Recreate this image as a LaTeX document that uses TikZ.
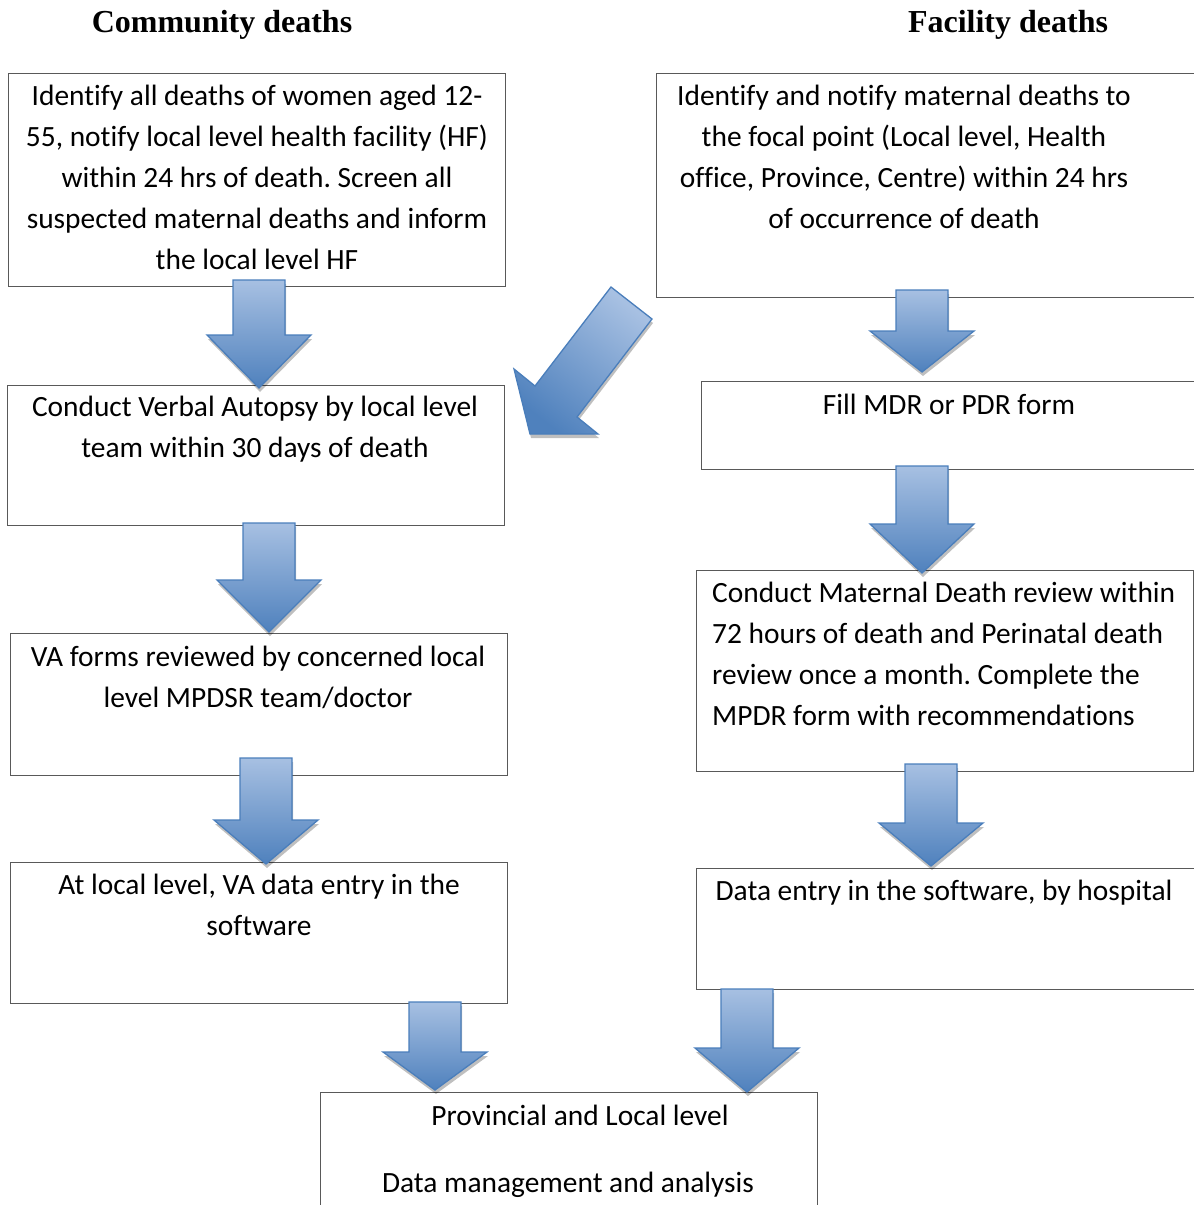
\documentclass[tikz,border=0pt]{standalone}
\usepackage{fontspec}
\setmainfont{Carlito}[Ligatures=NoCommon]
\newfontfamily\titlefont{Liberation Serif}
\usetikzlibrary{shadows}
\frenchspacing

\definecolor{boxline}{RGB}{89,89,89}
\definecolor{arrowline}{RGB}{74,126,187}
\definecolor{arrowtop}{RGB}{167,192,226}
\definecolor{arrowbottom}{RGB}{79,129,189}

% flecha de bloque: centro x, arriba, inicio de la punta, punta
\newcommand{\flowarrow}[4]{%
  \draw[bigarrow] (#1-26,#2) -- (#1+26,#2) -- (#1+26,#3) -- (#1+52,#3)
    -- (#1,#4) -- (#1-52,#3) -- (#1-26,#3) -- cycle;}

\begin{document}
\begin{tikzpicture}[x=1pt, y=-1pt,
  box/.style={draw=boxline, line width=1.3pt, rectangle, inner sep=0pt, anchor=north west},
  txt/.style={font=\fontsize{29.4}{41}\selectfont, inner sep=0pt, align=center, anchor=base},
  titel/.style={font=\titlefont\bfseries\fontsize{32}{38}\selectfont, inner sep=0pt, anchor=base},
  bigarrow/.style={draw=arrowline, line width=1.3pt, top color=arrowtop, bottom color=arrowbottom,
    drop shadow={shadow xshift=1pt, shadow yshift=-4pt, opacity=0.25, fill=black}}
  ]
	\useasboundingbox (0,0) rectangle (1194,1205);
	\clip (0,0) rectangle (1194,1205);

	%Titulos
		\node[titel] (comm) at (222,32) {Community deaths};
		\node[titel] (faci) at (1008,32) {Facility deaths};

	%Cajas lado izquierdo
		\node[box, minimum width=497, minimum height=213] (l1) at (8,73) {};
		\node[box, minimum width=497, minimum height=140] (l2) at (7,385) {};
		\node[box, minimum width=497, minimum height=142] (l3) at (10,633) {};
		\node[box, minimum width=497, minimum height=141] (l4) at (10,862) {};
	%Cajas lado derecho
		\node[box, minimum width=560, minimum height=224] (r1) at (656,73) {};
		\node[box, minimum width=520, minimum height=88] (r2) at (701,381) {};
		\node[box, minimum width=497, minimum height=201] (r3) at (696,570) {};
		\node[box, minimum width=520, minimum height=121] (r4) at (696,868) {};
	%Caja final
		\node[box, minimum width=497, minimum height=130] (fin) at (320,1092) {};

	%Textos (base = ultima linea)
		\node[txt] (tl1) at (257,269) {Identify all deaths of women aged 12-\\55, notify local level health facility (HF)\\within 24 hrs of death. Screen all\\suspected maternal deaths and inform\\the local level HF};
		\node[txt] (tl2) at (255,457) {Conduct Verbal Autopsy by local level\\team within 30 days of death};
		\node[txt] (tl3) at (258,707) {VA forms reviewed by concerned local\\level MPDSR team/doctor};
		\node[txt] (tl4) at (259,935) {At local level, VA data entry in the\\software};
		\node[txt] (tr1) at (904,228) {Identify and notify maternal deaths to\\the focal point (Local level, Health\\office, Province, Centre) within 24 hrs\\of occurrence of death};
		\node[txt] (tr2) at (949,414) {Fill MDR or PDR form};
		\node[txt, align=left, anchor=base west] (tr3) at (712,725) {Conduct Maternal Death review within\\72 hours of death and Perinatal death\\review once a month. Complete the\\MPDR form with recommendations};
		\node[txt] (tr4) at (944,900) {Data entry in the software, by hospital};
		\node[txt] (tfin) at (574,1192) {\hspace*{12pt}Provincial and Local level\\[26pt]Data management and analysis\hspace*{12pt}};

	%Flechas izquierda
		\flowarrow{259}{280}{335}{388}
		\flowarrow{269}{523}{580}{632}
		\flowarrow{266}{758}{820}{864}
		\flowarrow{435}{1002}{1052}{1090}
	%Flechas derecha
		\flowarrow{922}{290}{331}{372}
		\flowarrow{922}{466}{524}{573}
		\flowarrow{931}{764}{823}{866}
		\flowarrow{747}{989}{1048}{1092}
	%Flecha diagonal
		\draw[bigarrow, shading angle=-38] (611,287) -- (652,319) -- (577,417) -- (598,434)
			-- (530,434) -- (514,369) -- (535,386) -- cycle;
\end{tikzpicture}
\end{document}
